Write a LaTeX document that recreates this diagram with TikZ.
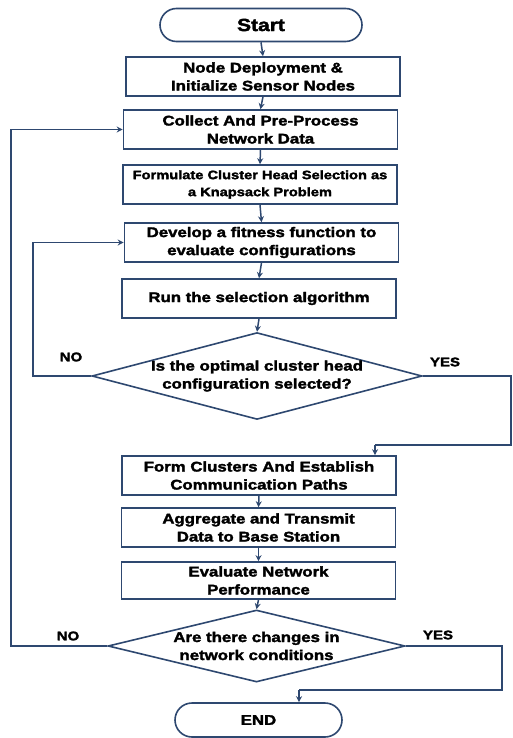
\documentclass[tikz,border=0pt]{standalone}
\usepackage{fontspec}
\setmainfont{Liberation Sans}[FakeStretch=1.2,BoldFeatures={FakeBold=2.2}]
\usetikzlibrary{shapes.geometric,shapes.misc,arrows.meta}
\definecolor{ln}{RGB}{46,72,112}
\begin{document}
\begin{tikzpicture}[x=1pt,y=-1pt,
  every node/.style={font=\bfseries\fontsize{14}{18}\selectfont,align=center,text=black},
  box/.style={draw=ln,line width=1.6pt,rectangle,minimum width=274pt,minimum height=39pt,inner sep=1pt},
  term/.style={draw=ln,line width=1.6pt,rounded rectangle,inner sep=0pt},
  dec/.style={draw=ln,line width=1.6pt,diamond,inner sep=0pt,aspect=3.8},
  lbl/.style={font=\bfseries\fontsize{12.5}{14}\selectfont},
  arr/.style={draw=ln,line width=1.5pt,-{Stealth[length=6pt,width=6pt]}},
  con/.style={draw=ln,line width=1.5pt}]
\useasboundingbox (0,0) rectangle (512,738);
\node[term,minimum width=202pt,minimum height=33pt,font=\bfseries\fontsize{17.5}{20}\selectfont] (start) at (261,25) {Start};
\node[box] (b1) at (263,76.5) {Node Deployment \&\\Initialize Sensor Nodes};
\node[box] (b2) at (260.5,129.5) {Collect And Pre-Process\\Network Data};
\node[box,font=\bfseries\fontsize{12.2}{17}\selectfont] (b3) at (260,184.5) {Formulate Cluster Head Selection as\\a Knapsack Problem};
\node[box] (b4) at (261.5,242.5) {Develop a fitness function to\\evaluate configurations};
\node[box] (b5) at (259,298.5) {Run the selection algorithm};
\node[dec,minimum width=322pt,minimum height=84pt] (d1) at (257,376) {Is the optimal cluster head\\configuration selected?};
\node[box] (b6) at (259,475.5) {Form Clusters And Establish\\Communication Paths};
\node[box] (b7) at (258.5,527.5) {Aggregate and Transmit\\Data to Base Station};
\node[box,minimum height=37pt] (b8) at (258.5,580.5) {Evaluate Network\\Performance};
\node[dec,minimum width=297pt,minimum height=68pt] (d2) at (256.5,646) {Are there changes in\\network conditions};
\node[term,minimum width=167pt,minimum height=34pt] (end) at (258.5,720) {END};
\coordinate (y1a) at (511,376);
\coordinate (y1b) at (511,445);
\coordinate (y1c) at (375,445);
\coordinate (y2a) at (502,646);
\coordinate (y2b) at (502,690);
\coordinate (y2c) at (299,690);
\node[lbl] (no1) at (71,357) {NO};
\node[lbl] (yes1) at (445,362) {YES};
\node[lbl] (no2) at (68,636) {NO};
\node[lbl] (yes2) at (438,635) {YES};
\draw[arr] (start.south) -- (b1.north);
\draw[arr] (b1.south) -- (b2.north);
\draw[arr] (b2.south) -- (b3.north);
\draw[arr] (b3.south) -- (b4.north);
\draw[arr] (b4.south) -- (b5.north);
\draw[arr] (b5.south) -- (d1.north);
\draw[arr] (b6.south) -- (b7.north);
\draw[arr] (b7.south) -- (b8.north);
\draw[arr] (b8.south) -- (d2.north);
\draw[arr] (d1.west) -- (33,376) |- (b4.west);
\draw[arr] (d2.west) -- (11,646) |- (b2.west);
\draw[con] (d1.east) -- (y1a) -- (y1b) -- (y1c);
\draw[arr] (y1c) -- (y1c |- b6.north);
\draw[con] (d2.east) -- (y2a) -- (y2b) -- (y2c);
\draw[arr] (y2c) -- (y2c |- end.north);
\end{tikzpicture}
\end{document}
